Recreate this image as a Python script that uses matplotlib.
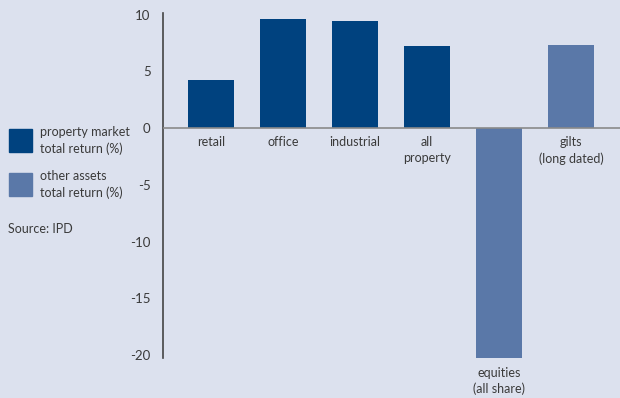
import numpy as np
import matplotlib.pyplot as plt
from matplotlib.patches import Rectangle
from matplotlib.transforms import offset_copy

## DATA ------------------------------------------------
categories = ['retail', 'office', 'industrial', 'all\nproperty',
              'equities\n(all share)', 'gilts\n(long dated)']
returns = [4.25, 9.65, 9.4, 7.2, -20.3, 7.3]
group = ['property', 'property', 'property', 'property', 'other', 'other']
yticks = [10, 5, 0, -5, -10, -15, -20]

legend_labels = ['property market\ntotal return (%)', 'other assets\ntotal return (%)']

## STYLE ------------------------------------------------
bg = '#dce1ee'
dark = '#00427f'
light = '#5a78a8'
txt = '#3a3a3a'
plt.rcParams['font.family'] = ['Lato', 'DejaVu Sans']
plt.rcParams['axes.unicode_minus'] = False
fs = 9

fig = plt.figure(figsize=(6.2, 3.98), dpi=100, facecolor=bg)
ax = fig.add_axes([0.263, 0.0995, 0.737, 0.8668])
ax.set_facecolor(bg)

x = np.arange(len(categories))
colors = [dark if g == 'property' else light for g in group]
ax.bar(x, returns, width=0.64, color=colors, zorder=2)

ax.set_xlim(-0.667, 5.68)
ax.set_ylim(-20.3, 10.1)
ax.axhline(0, color='#8a8a8a', lw=1.2, zorder=3)

for s in ['top', 'right', 'bottom']:
    ax.spines[s].set_visible(False)
ax.spines['left'].set_color('#444444')
ax.spines['left'].set_linewidth(1.2)
ax.set_xticks([])
ax.set_yticks(yticks)
ax.tick_params(axis='y', length=0, pad=9, labelsize=fs + 0.5, labelcolor=txt)

# category labels below the zero line (or below the bar for negatives)
for xi, lab, v in zip(x, categories, returns):
    base = min(v, 0)
    tr = offset_copy(ax.transData, fig=fig, x=0, y=-6, units='points')
    ax.text(xi, base, lab, transform=tr, ha='center', va='top',
            fontsize=fs, color=txt, linespacing=1.35)

# legend drawn at left
for i, (lab, c) in enumerate(zip(legend_labels, [dark, light])):
    y0 = 1 - (152 + 44 * i) / 398
    fig.patches.append(Rectangle((9 / 620, y0), 23 / 620, 23 / 398,
                                 transform=fig.transFigure, color=c))
    fig.text(40 / 620, y0 + 11.5 / 398, lab, ha='left', va='center',
             fontsize=fs, color=txt, linespacing=1.35)

fig.text(8 / 620, 1 - 229 / 398, 'Source: IPD', ha='left', va='center',
         fontsize=fs, color=txt)

fig.savefig('out.png', dpi=100, facecolor=bg)
